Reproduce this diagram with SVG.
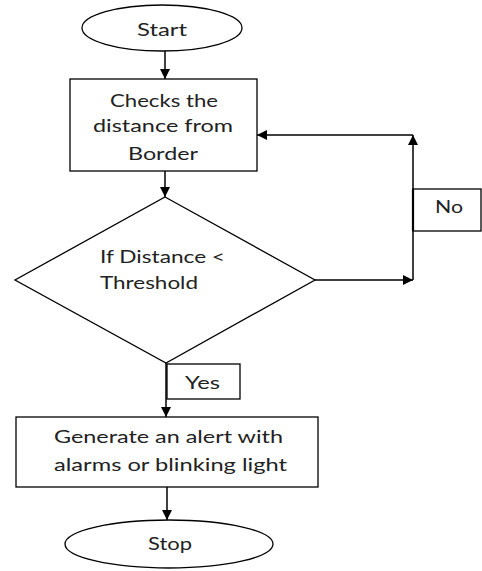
<svg xmlns="http://www.w3.org/2000/svg" width="482" height="571" viewBox="0 0 482 571">
<style>
.s{fill:#fff;stroke:#000;stroke-width:1.3}
.c{fill:none;stroke:#000;stroke-width:1.5}
text{font-family:Lato,"Open Sans","Liberation Sans",sans-serif;font-size:18px;fill:#222}
</style>
<defs>
<marker id="a" markerWidth="10" markerHeight="10" refX="10" refY="5" orient="auto" markerUnits="userSpaceOnUse">
<path d="M0,0 L10,5 L0,10 Z" fill="#000"/>
</marker>
</defs>
<rect width="482" height="571" fill="#fff"/>
<g id="connectors">
<line class="c" x1="165" y1="51" x2="165" y2="79" marker-end="url(#a)"/>
<line class="c" x1="165" y1="171" x2="165" y2="197" marker-end="url(#a)"/>
<line class="c" x1="315" y1="280" x2="413" y2="280" marker-end="url(#a)"/>
<line class="c" x1="413" y1="280" x2="413" y2="135" marker-end="url(#a)"/>
<line class="c" x1="413" y1="135" x2="257" y2="135" marker-end="url(#a)"/>
<line class="c" x1="166" y1="363" x2="166" y2="417" marker-end="url(#a)"/>
<line class="c" x1="167" y1="487" x2="167" y2="520" marker-end="url(#a)"/>
</g>
<g id="start">
<ellipse class="s" cx="162" cy="28" rx="80" ry="23"/>
<text x="137" y="36" textLength="50" lengthAdjust="spacingAndGlyphs">Start</text>
</g>
<g id="check">
<rect class="s" x="70" y="79" width="187" height="92"/>
<text x="110" y="107" textLength="108" lengthAdjust="spacingAndGlyphs">Checks the</text>
<text x="93" y="132" textLength="140" lengthAdjust="spacingAndGlyphs">distance from</text>
<text x="128" y="160" textLength="70" lengthAdjust="spacingAndGlyphs">Border</text>
</g>
<g id="decision">
<polygon class="s" points="165,197 315,280 166,363 15,280"/>
<text x="100" y="263" textLength="125" lengthAdjust="spacingAndGlyphs">If Distance &lt;</text>
<text x="100" y="289" textLength="98" lengthAdjust="spacingAndGlyphs">Threshold</text>
</g>
<g id="no">
<rect class="s" x="413" y="189" width="68" height="42"/>
<line x1="413" y1="189" x2="413" y2="231" stroke="#000" stroke-width="2.2"/>
<text x="435" y="213" textLength="28" lengthAdjust="spacingAndGlyphs">No</text>
</g>
<g id="yes">
<rect class="s" x="167" y="364" width="73" height="35"/>
<text x="185" y="389" textLength="35" lengthAdjust="spacingAndGlyphs">Yes</text>
</g>
<g id="alert">
<rect class="s" x="16" y="417" width="302" height="70"/>
<text x="54" y="443" textLength="229" lengthAdjust="spacingAndGlyphs">Generate an alert with</text>
<text x="54" y="471" textLength="233" lengthAdjust="spacingAndGlyphs">alarms or blinking light</text>
</g>
<g id="stop">
<ellipse class="s" cx="169" cy="544" rx="104" ry="24"/>
<text x="148" y="550" textLength="44" lengthAdjust="spacingAndGlyphs">Stop</text>
</g>
</svg>
